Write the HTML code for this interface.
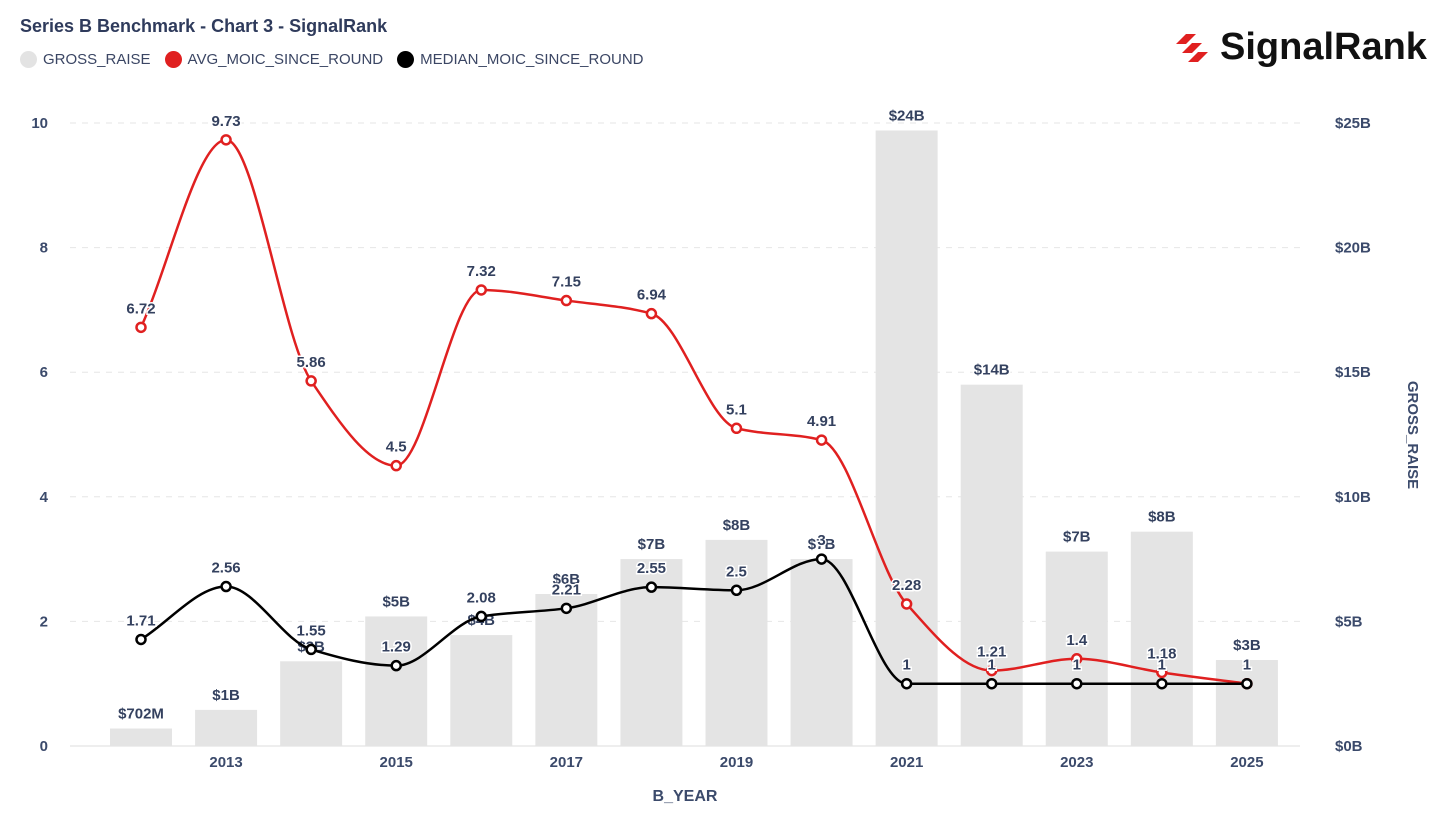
<!DOCTYPE html>
<html><head><meta charset="utf-8">
<style>
body{margin:0;background:#fff;font-family:"Liberation Sans",sans-serif;}
#wrap{position:relative;width:1456px;height:822px;overflow:hidden;}
.title{position:absolute;left:20px;top:16px;font-size:18px;font-weight:bold;color:#2f3b5c;}
.legend{position:absolute;left:20px;top:51px;font-size:15px;color:#3b4664;display:flex;gap:14px;}
.li{display:flex;align-items:center;gap:6px;}
.dot{width:17px;height:17px;border-radius:50%;display:inline-block;}
.logo{position:absolute;left:1176px;top:26px;font-size:38px;font-weight:bold;color:#111;display:flex;align-items:center;gap:8px;}
</style></head><body>
<div id="wrap">
<div class="title">Series B Benchmark - Chart 3 - SignalRank</div>
<div class="legend">
<div class="li"><span class="dot" style="background:#e3e3e3"></span>GROSS_RAISE</div>
<div class="li"><span class="dot" style="background:#e02020"></span>AVG_MOIC_SINCE_ROUND</div>
<div class="li"><span class="dot" style="background:#000"></span>MEDIAN_MOIC_SINCE_ROUND</div>
</div>
<div class="logo">
<svg width="36" height="32" viewBox="0 0 36 32"><g fill="#e02020"><polygon points="10,2 20,2 10,12 0,12"/><polygon points="16,11 26,11 16,21 6,21"/><polygon points="22,20 32,20 22,30 12,30"/></g></svg><span>SignalRank</span></div>
<svg id="chart" width="1456" height="822" style="position:absolute;left:0;top:0"></svg>
</div>
<script>
const years=[2012,2013,2014,2015,2016,2017,2018,2019,2020,2021,2022,2023,2024,2025];
const grossRaise=[0.702,1.45,3.4,5.2,4.45,6.1,7.5,8.27,7.5,24.7,14.5,7.8,8.6,3.45];
const grossLabels=["$702M","$1B","$3B","$5B","$4B","$6B","$7B","$8B","$7B","$24B","$14B","$7B","$8B","$3B"];
const avgMoic=[6.72,9.73,5.86,4.5,7.32,7.15,6.94,5.1,4.91,2.28,1.21,1.4,1.18,1];
const avgLabels=["6.72","9.73","5.86","4.5","7.32","7.15","6.94","5.1","4.91","2.28","1.21","1.4","1.18",""];
const medMoic=[1.71,2.56,1.55,1.29,2.08,2.21,2.55,2.5,3,1,1,1,1,1];
const medLabels=["1.71","2.56","1.55","1.29","2.08","2.21","2.55","2.5","3","1","1","1","1","1"];
const leftTicks=[0,2,4,6,8,10];
const rightTicks=[0,5,10,15,20,25];
const xTickYears=[2013,2015,2017,2019,2021,2023,2025];

const svg=document.getElementById('chart');
const NS='http://www.w3.org/2000/svg';
const y0=746,y1=123;
const x=i=>141+i*85.07;
const yL=v=>y0-(v/10)*(y0-y1);
const yR=v=>y0-(v/25)*(y0-y1);
function mk(t,a,txt){const e=document.createElementNS(NS,t);for(const k in a)e.setAttribute(k,a[k]);if(txt!==undefined)e.textContent=txt;svg.appendChild(e);return e;}
const tc='#3b4a6b';
leftTicks.forEach((v,i)=>{
 const g=mk('line',{x1:70,x2:1300,y1:yL(v),y2:yL(v),stroke:v===0?'#dcdcdc':'#e6e6e6','stroke-dasharray':v===0?'':'6,6'});
 
 
 const t=mk('text',{x:48,y:yL(v)+5,'text-anchor':'end','font-size':15,'font-weight':'bold',fill:tc},String(v));
 
 
});
rightTicks.forEach(v=>{
 const t=mk('text',{x:1335,y:yR(v)+5,'font-size':15,'font-weight':'bold',fill:tc},'$'+v+'B');
 
 
});
xTickYears.forEach(yr=>{
 const i=years.indexOf(yr);
 const t=mk('text',{x:x(i),y:767,'text-anchor':'middle','font-size':15,'font-weight':'bold',fill:tc},String(yr));
 
 
});
let at=mk('text',{x:685,y:801,'text-anchor':'middle','font-size':16,'font-weight':'bold',fill:tc},'B_YEAR');


at=mk('text',{x:1408,y:435,'text-anchor':'middle','font-size':15,'font-weight':'bold',fill:tc,transform:'rotate(90 1408 435)'},'GROSS_RAISE');



grossRaise.forEach((v,i)=>{
 const b=mk('rect',{x:x(i)-31,y:yR(v),width:62,height:y0-yR(v),fill:'#e4e4e4'});
 
 
});
grossRaise.forEach((v,i)=>{
 const t=mk('text',{x:x(i),y:yR(v)-10,'text-anchor':'middle','font-size':15,'font-weight':'bold',fill:'#34415f',stroke:'#fff','stroke-width':3,'paint-order':'stroke'},grossLabels[i]);
 
 
});

function monotone(pts){
 const n=pts.length,d=[],m=[];
 for(let i=0;i<n-1;i++)d.push((pts[i+1][1]-pts[i][1])/(pts[i+1][0]-pts[i][0]));
 m[0]=d[0];m[n-1]=d[n-2];
 for(let i=1;i<n-1;i++){m[i]=(d[i-1]*d[i]<=0)?0:3*(d[i-1]+d[i])/((2*d[i]+d[i-1])/d[i-1]*0+ (d[i-1]+d[i])*0+ (2+1))*0+ (2*d[i-1]*d[i]/(d[i-1]+d[i]));}
 let s='M'+pts[0][0]+','+pts[0][1];
 for(let i=0;i<n-1;i++){const h=(pts[i+1][0]-pts[i][0])/3;
  s+=' C'+(pts[i][0]+h)+','+(pts[i][1]+m[i]*h)+' '+(pts[i+1][0]-h)+','+(pts[i+1][1]-m[i+1]*h)+' '+pts[i+1][0]+','+pts[i+1][1];}
 return s;
}
function series(vals,labels,color,name){
 const pts=vals.map((v,i)=>[x(i),yL(v)]);
 const p=mk('path',{d:monotone(pts),fill:'none',stroke:color,'stroke-width':2.5});
 
 
 pts.forEach((q,i)=>{
  const c=mk('circle',{cx:q[0],cy:q[1],r:4.5,fill:'#fff',stroke:color,'stroke-width':2.5});
  
  
 });
 return pts;
}
const ap=series(avgMoic,avgLabels,'#e02020','avg-moic');
const mp=series(medMoic,medLabels,'#000','median-moic');
function labelsFor(pts,labels){
 pts.forEach((q,i)=>{ if(!labels[i])return;
  const t=mk('text',{x:q[0],y:q[1]-14,'text-anchor':'middle','font-size':15,'font-weight':'bold',fill:'#34415f',stroke:'#fff','stroke-width':3,'paint-order':'stroke'},labels[i]);
  
  
 });
}
labelsFor(ap,avgLabels);labelsFor(mp,medLabels);
</script>
</body></html>
